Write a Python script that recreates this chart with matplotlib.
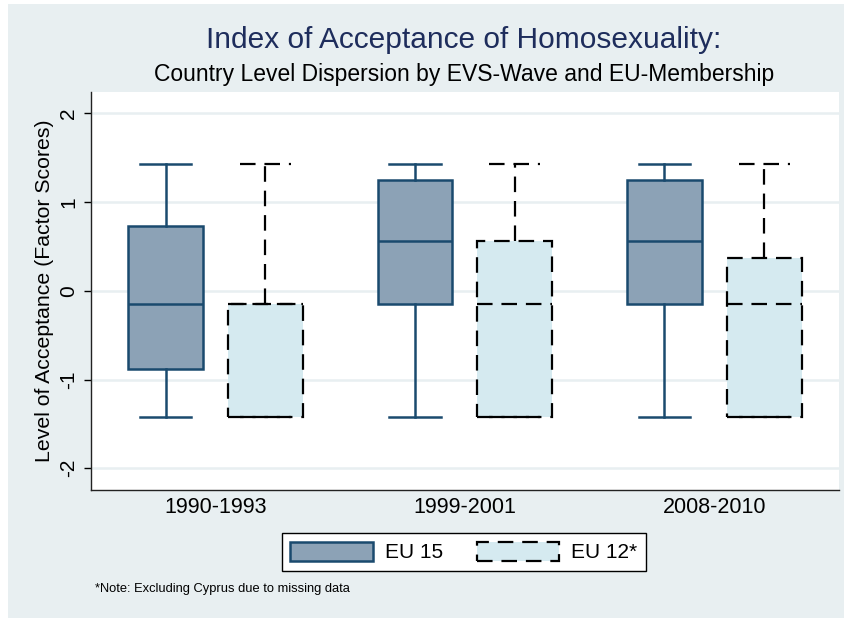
import matplotlib
matplotlib.use("Agg")
import matplotlib.pyplot as plt
from matplotlib.patches import Patch, Rectangle

# ── Data ────────────────────────────────────────────────────────────────────
WAVES = ["1990-1993", "1999-2001", "2008-2010"]

EU15_WHISLO = [-1.42, -1.42, -1.42]
EU15_Q1     = [-0.88, -0.15, -0.15]
EU15_MED    = [-0.15,  0.56,  0.56]
EU15_Q3     = [ 0.73,  1.25,  1.25]
EU15_WHISHI = [ 1.43,  1.43,  1.43]

EU12_WHISLO = [-1.42, -1.42, -1.42]
EU12_Q1     = [-1.42, -1.42, -1.42]
EU12_MED    = [-0.15, -0.15, -0.15]
EU12_Q3     = [-0.15,  0.56,  0.37]
EU12_WHISHI = [ 1.43,  1.43,  1.43]

YTICKS = [-2, -1, 0, 1, 2]

# ── Styles ──────────────────────────────────────────────────────────────────
BG       = "#e8eff1"
NAVY     = "#1a4a6e"
FILL15   = "#8ca2b6"
FILL12   = "#d5eaf0"
TITLE_C  = "#1e2d5c"
DASH     = (0, (7, 4))

plt.rcParams["font.family"] = ["Liberation Sans", "DejaVu Sans"]


def stats(lo, q1, med, q3, hi):
    return [dict(whislo=a, q1=b, med=c, q3=d, whishi=e, fliers=[])
            for a, b, c, d, e in zip(lo, q1, med, q3, hi)]


fig = plt.figure(figsize=(8.44, 6.19), dpi=100)
fig.patch.set_facecolor("white")
fig.patches.append(Rectangle((8 / 844, 1 / 619), 836 / 844, 614 / 619,
                             transform=fig.transFigure, facecolor=BG,
                             edgecolor="none", zorder=-10))

ax = fig.add_axes([90.7 / 844, 129 / 619, 748.3 / 844, 398 / 619])
ax.set_zorder(2)
ax.set_facecolor("white")

pos = list(range(len(WAVES)))
off = 0.2
width = 0.30

ax.bxp(stats(EU15_WHISLO, EU15_Q1, EU15_MED, EU15_Q3, EU15_WHISHI),
       positions=[p - off for p in pos], widths=width, patch_artist=True,
       showfliers=False, capwidths=0.205,
       boxprops=dict(facecolor=FILL15, edgecolor=NAVY, linewidth=1.8),
       medianprops=dict(color=NAVY, linewidth=1.8),
       whiskerprops=dict(color=NAVY, linewidth=1.8),
       capprops=dict(color=NAVY, linewidth=1.8), zorder=3)

ax.bxp(stats(EU12_WHISLO, EU12_Q1, EU12_MED, EU12_Q3, EU12_WHISHI),
       positions=[p + off for p in pos], widths=width, patch_artist=True,
       showfliers=False, capwidths=0.205,
       boxprops=dict(facecolor=FILL12, edgecolor="black", linewidth=1.6,
                     linestyle=DASH),
       medianprops=dict(color="black", linewidth=1.6, linestyle=DASH),
       whiskerprops=dict(color="black", linewidth=1.6, linestyle=DASH),
       capprops=dict(color="black", linewidth=1.6, linestyle=DASH), zorder=3)

ax.set_xlim(-0.5, 2.5)
ax.set_ylim(-2.245, 2.24)
ax.set_xticks(pos)
ax.set_xticklabels(WAVES, fontsize=15.5)
ax.tick_params(axis="x", length=0, pad=5)
ax.set_yticks(YTICKS)
ax.set_yticklabels([str(t) for t in YTICKS], rotation=90, va="center",
                   fontsize=15)
ax.tick_params(axis="y", length=5, width=1, pad=4)
ax.yaxis.grid(True, color=BG, linewidth=1.8)
ax.set_axisbelow(True)
for s in ["top", "right"]:
    ax.spines[s].set_visible(False)
for s in ["left", "bottom"]:
    ax.spines[s].set_color("#222222")
    ax.spines[s].set_linewidth(1.0)

ax.set_ylabel("Level of Acceptance (Factor Scores)", fontsize=15.3, labelpad=4)

fig.text(464 / 844, 1 - 40 / 619, "Index of Acceptance of Homosexuality:",
         ha="center", va="center", fontsize=21.5, color=TITLE_C)
fig.text(464 / 844, 1 - 74 / 619,
         "Country Level Dispersion by EVS-Wave and EU-Membership",
         ha="center", va="center", fontsize=16.5, color="black")

handles = [Patch(facecolor=FILL15, edgecolor=NAVY, linewidth=1.8),
           Patch(facecolor=FILL12, edgecolor="black", linewidth=1.6,
                 linestyle=DASH)]
leg = fig.legend(handles, ["EU 15", "EU 12*"], loc="center",
                 bbox_to_anchor=(464 / 844, 1 - 552 / 619), ncol=2,
                 fontsize=15, frameon=True, fancybox=False, framealpha=1,
                 handlelength=3.95, handleheight=1.06, columnspacing=1.6,
                 handletextpad=0.6, borderpad=0.4, borderaxespad=0)
leg.get_frame().set_edgecolor("black")
leg.get_frame().set_linewidth(1.0)
leg.get_frame().set_facecolor("white")

fig.text(95 / 844, 1 - 589 / 619, "*Note: Excluding Cyprus due to missing data",
         ha="left", va="center", fontsize=9.3)

fig.savefig("out.png", dpi=100, facecolor=fig.get_facecolor())
